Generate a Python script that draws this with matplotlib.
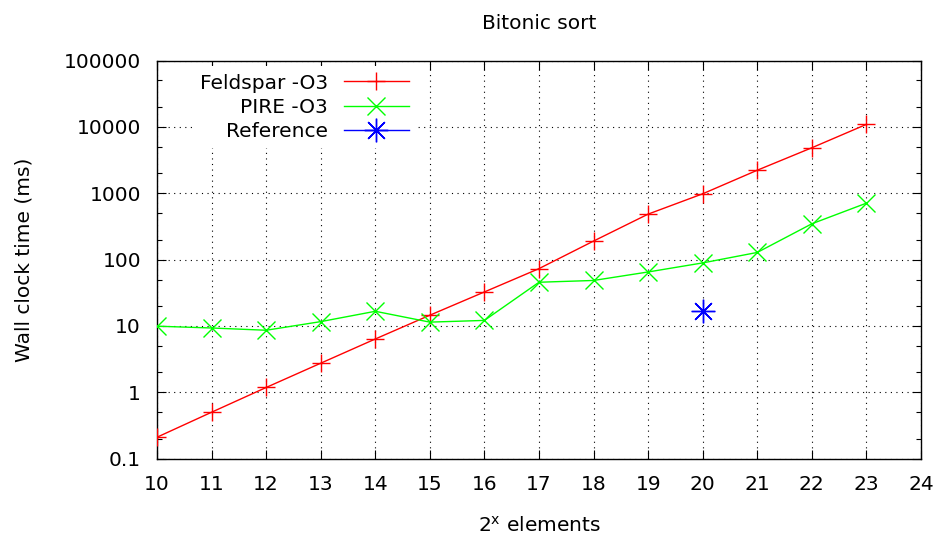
import matplotlib
matplotlib.use("Agg")
import matplotlib.pyplot as plt
from matplotlib.ticker import FixedLocator, NullFormatter

x_exp = [10, 11, 12, 13, 14, 15, 16, 17, 18, 19, 20, 21, 22, 23]
feldspar = [0.21, 0.50, 1.18, 2.74, 6.35, 14.5, 32.5, 73, 190, 484, 980, 2220, 4840, 10900]
pire = [9.9, 9.3, 8.6, 11.6, 16.6, 11.4, 12.1, 45.5, 48.4, 65, 89, 128, 346, 708]
ref_x = [20]
ref_y = [16.9]

x_ticks = list(range(10, 25))
y_ticks = [0.1, 1, 10, 100, 1000, 10000, 100000]
y_tick_labels = ["0.1", "1", "10", "100", "1000", "10000", "100000"]
y_minor = [m * 10.0 ** k for k in range(-1, 5) for m in (2, 5)]

FS = 14.5
plt.rcParams['font.family'] = ['DejaVu Sans']
fig = plt.figure(figsize=(9.42, 5.37), dpi=100)
ax = fig.add_axes([157 / 942, 1 - 458.6 / 537, (921 - 157) / 942, (458.6 - 60.5) / 537])

ax.plot(x_exp, feldspar, color='#ff0000', lw=1.0, marker='+', markersize=12.5,
        markeredgewidth=1.0, label='Feldspar -O3', zorder=3)
ax.plot(x_exp, pire, color='#00ff00', lw=1.0, marker='x', markersize=12.5,
        markeredgewidth=1.0, label='PIRE -O3', zorder=3)
ax.plot(ref_x, ref_y, color='#0000ff', lw=1.0, marker=(8, 2, 0), markersize=17,
        markeredgewidth=1.0, linestyle='-', label='Reference', zorder=3)

ax.set_yscale('log')
ax.set_xlim(10, 24)
ax.set_ylim(0.1, 100000)
ax.xaxis.set_major_locator(FixedLocator(x_ticks))
ax.set_xticklabels([str(t) for t in x_ticks])
ax.yaxis.set_major_locator(FixedLocator(y_ticks))
ax.set_yticklabels(y_tick_labels)
ax.yaxis.set_minor_locator(FixedLocator(y_minor))
ax.yaxis.set_minor_formatter(NullFormatter())
ax.xaxis.set_minor_locator(FixedLocator([]))

ax.tick_params(which='both', direction='in', top=True, right=True, labelsize=FS, width=0.8)
ax.tick_params(which='major', length=6.5, pad=11.5)
ax.tick_params(which='minor', length=3.5)
for s in ax.spines.values():
    s.set_linewidth(1.0)

ax.grid(True, which='major', color='black', linestyle=(0, (1, 4)), lw=0.8)

ax.set_title('Bitonic sort', fontsize=FS, pad=23)
ax.set_xlabel('2$^{\\mathregular{x}}$ elements', fontsize=FS, labelpad=16)
ax.set_ylabel('Wall clock time (ms)', fontsize=FS, labelpad=22)

leg = ax.legend(loc='upper left', markerfirst=False, fontsize=FS, frameon=True,
                facecolor='white', edgecolor='none', framealpha=1.0, fancybox=False,
                handlelength=3.2, handletextpad=0.8, labelspacing=0.25, borderaxespad=0.0,
                borderpad=0.35, bbox_to_anchor=(0.047, 0.985))
for col in leg._legend_handle_box.get_children():
    col.align = 'right'
leg.set_zorder(5)

fig.savefig('out.png', dpi=100)
